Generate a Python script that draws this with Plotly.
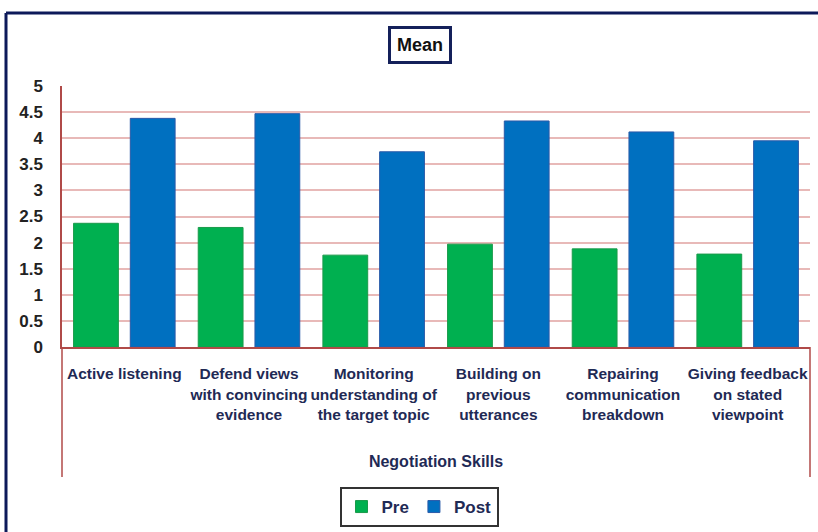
import plotly.graph_objects as go

categories = [
    "Active listening",
    "Defend views<br>with convincing<br>evidence",
    "Monitoring<br>understanding of<br>the target topic",
    "Building on<br>previous<br>utterances",
    "Repairing<br>communication<br>breakdown",
    "Giving feedback<br>on stated<br>viewpoint",
]
pre_values = [2.37, 2.29, 1.76, 1.97, 1.88, 1.78]
post_values = [4.38, 4.47, 3.74, 4.33, 4.12, 3.95]
y_ticks = [0, 0.5, 1, 1.5, 2, 2.5, 3, 3.5, 4, 4.5, 5]
y_tick_labels = ["0", "0.5", "1", "1.5", "2", "2.5", "3", "3.5", "4", "4.5", "5"]

W, H = 818, 532
ML, MR, MT, MB = 62, 8, 86, 185
PW, PH = W - ML - MR, H - MT - MB

def px_x(x):
    return (x - ML) / PW

def px_y(y):
    return (H - MB - y) / PH

FONT = "Liberation Sans Narrow, Arial Narrow, Liberation Sans, Arial"
AXIS_RED = "#b04a48"

fig = go.Figure()
fig.add_trace(go.Bar(
    name="Pre", x=categories, y=pre_values,
    marker=dict(color="#00b050", line=dict(color="#1a9a4a", width=1)),
))
fig.add_trace(go.Bar(
    name="Post", x=categories, y=post_values,
    marker=dict(color="#0070c0", line=dict(color="#2a5aa8", width=1)),
))

fig.update_layout(
    width=W, height=H,
    margin=dict(l=ML, r=MR, t=MT, b=MB, autoexpand=False),
    paper_bgcolor="white", plot_bgcolor="white",
    barmode="group", bargap=0.09, bargroupgap=0.21,
    font=dict(family=FONT, color="#222222"),
    showlegend=True,
    legend=dict(
        orientation="h", x=px_x(419), xanchor="center",
        y=px_y(487), yanchor="top",
        bordercolor="#333333", borderwidth=2,
        font=dict(size=17, color="#1f2a55", family=FONT, weight="bold"),
        itemwidth=30, traceorder="normal",
    ),
    xaxis=dict(
        showline=True, linecolor=AXIS_RED, linewidth=1.5,
        showgrid=False, ticks="", ticklabelstandoff=12, tickangle=0,
        tickfont=dict(size=15.5, color="#1f2a55", family=FONT, weight="bold"),
        title=dict(text="Negotiation Skills", standoff=34,
                   font=dict(size=16, color="#1f2a55", family=FONT, weight="bold")),
        fixedrange=True,
    ),
    yaxis=dict(
        range=[0, 5], tickvals=y_ticks, ticktext=y_tick_labels,
        showline=True, linecolor=AXIS_RED, linewidth=1.5,
        gridcolor="#e8b9b8", gridwidth=1.5, zeroline=False,
        ticks="", ticklabelstandoff=14,
        tickfont=dict(size=17, color="#222222", family=FONT, weight="bold"),
        fixedrange=True,
    ),
)

# title box
fig.add_annotation(
    text="<b>Mean</b>", xref="paper", yref="paper",
    x=px_x(420), y=px_y(45), xanchor="center", yanchor="middle",
    showarrow=False,
    font=dict(size=18, color="#111111", family=FONT),
    bordercolor="#14205a", borderwidth=3, borderpad=6, bgcolor="white",
)

# axis line extensions below the category axis
for xp in (62, 810):
    fig.add_shape(type="line", xref="paper", yref="paper",
                  x0=px_x(xp), x1=px_x(xp), y0=px_y(347), y1=px_y(477),
                  line=dict(color=AXIS_RED, width=1.5))

# outer frame (top and left edges)
fig.add_shape(type="line", xref="paper", yref="paper",
              x0=px_x(6), x1=px_x(818), y0=px_y(13), y1=px_y(13),
              line=dict(color="#0d1a5a", width=3))
fig.add_shape(type="line", xref="paper", yref="paper",
              x0=px_x(6), x1=px_x(6), y0=px_y(13), y1=px_y(532),
              line=dict(color="#0d1a5a", width=3))

fig.write_html("out.html")
